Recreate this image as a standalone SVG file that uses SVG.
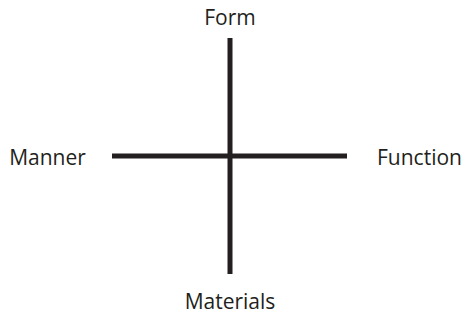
<svg xmlns="http://www.w3.org/2000/svg" width="467" height="320" viewBox="0 0 467 320">
<style>
.lbl{font-family:"Open Sans","Noto Sans",sans-serif;font-size:21px;fill:#231f20}
.ax{stroke:#231f20;stroke-width:5;fill:none}
</style>
<rect width="467" height="320" fill="#fff"/>
<g id="connectors">
<line class="ax" x1="230" y1="38" x2="230" y2="274"/>
<line class="ax" x1="112" y1="156" x2="347" y2="156"/>
</g>
<g id="form"><text class="lbl" x="230" y="25" text-anchor="middle">Form</text></g>
<g id="manner"><text class="lbl" x="47.5" y="165" text-anchor="middle">Manner</text></g>
<g id="function"><text class="lbl" x="419.5" y="165" text-anchor="middle">Function</text></g>
<g id="materials"><text class="lbl" x="230" y="309" text-anchor="middle">Materials</text></g>
</svg>
